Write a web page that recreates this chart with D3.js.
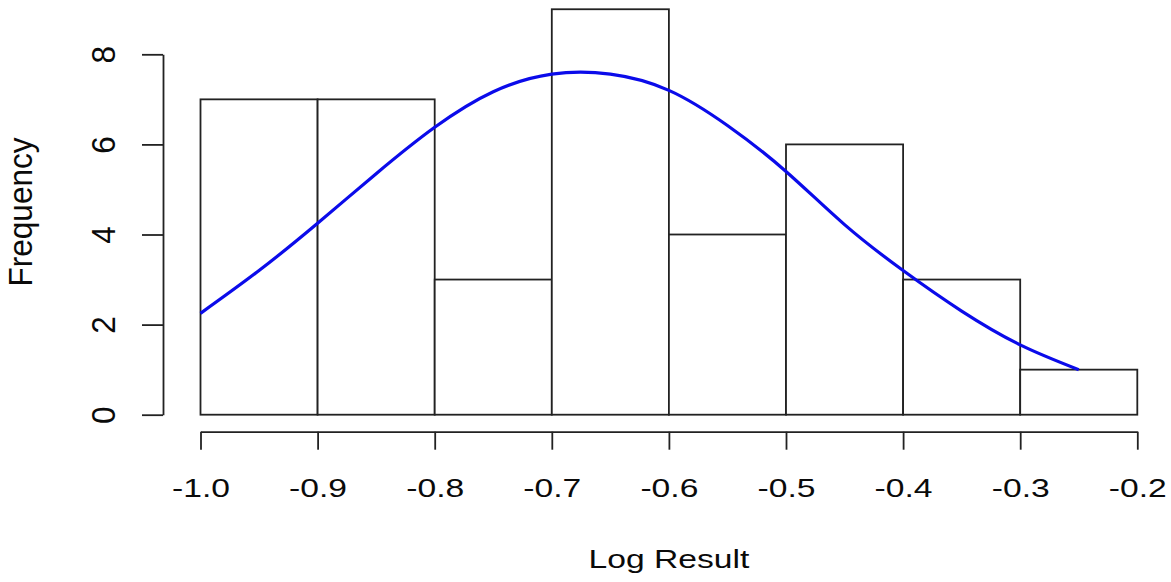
<!DOCTYPE html>
<html>
<head>
<meta charset="utf-8">
<script src="https://cdn.jsdelivr.net/npm/d3@7"></script>
<style>
  html, body { margin: 0; padding: 0; background: #fff; }
  svg { display: block; }
  text { font-family: "Liberation Sans", Arial, sans-serif; fill: #0a0a0a; }
</style>
</head>
<body>
<div id="chart"></div>
<script>
// Histogram of log results with fitted curve (D3 v7)

const width = 1171;
const height = 582;

// histogram bins (lower edges) and counts
const binStarts = [-1.0, -0.9, -0.8, -0.7, -0.6, -0.5, -0.4, -0.3];
const binWidth = 0.1;
const counts = [7, 7, 3, 9, 4, 6, 3, 1];

// blue curve, every 0.05
const curveX = [-1.00, -0.95, -0.90, -0.85, -0.80, -0.75, -0.70, -0.65, -0.60, -0.55, -0.50, -0.45, -0.40, -0.35, -0.30, -0.25];
const curveY = [2.25, 3.2, 4.25, 5.35, 6.38, 7.17, 7.56, 7.56, 7.2, 6.42, 5.4, 4.22, 3.2, 2.3, 1.55, 1.0];

// tick labels
const xTicks = [-1.0, -0.9, -0.8, -0.7, -0.6, -0.5, -0.4, -0.3, -0.2];
const yTicks = [0, 2, 4, 6, 8];

// text in the picture is drawn wider than normal
const flat = 'scale(1.27,1)';
const upright = 'scale(1.27,1.19) rotate(-90)';

const svg = d3.select('#chart')
  .append('svg')
  .attr('width', width)
  .attr('height', height);

const x = d3.scaleLinear().domain([-1.0, -0.2]).range([200.5, 1137.3]);
const y = d3.scaleLinear().domain([0, 8]).range([414.7, 54.3]);

// bars
svg.append('g')
  .selectAll('rect')
  .data(binStarts)
  .enter()
  .append('rect')
  .attr('x', d => x(d))
  .attr('width', d => x(d + binWidth) - x(d))
  .attr('y', (d, i) => y(counts[i]))
  .attr('height', (d, i) => y(0) - y(counts[i]))
  .attr('fill', '#fff')
  .attr('stroke', '#222')
  .attr('stroke-width', 1.8);

// curve
const line = d3.line()
  .x(d => x(d[0]))
  .y(d => y(d[1]))
  .curve(d3.curveNatural);

svg.append('path')
  .datum(curveX.map((v, i) => [v, curveY[i]]))
  .attr('d', line)
  .attr('fill', 'none')
  .attr('stroke', '#0b0bea')
  .attr('stroke-width', 3.2);

// x axis
const xAxis = svg.append('g')
  .attr('transform', 'translate(0,431.7)')
  .call(d3.axisBottom(x).tickValues(xTicks).tickSize(18).tickSizeOuter(0));

xAxis.selectAll('text')
  .attr('y', 65.5)
  .attr('dy', 0)
  .attr('transform', flat)
  .style('font-size', '26.5px')
  .text(d => d3.format('.1f')(d).replace('−', '-'));

// y axis
const yAxis = svg.append('g')
  .attr('transform', 'translate(163,0)')
  .call(d3.axisLeft(y).tickValues(yTicks).tickSize(21).tickSizeOuter(0));

yAxis.selectAll('text')
  .attr('x', 0)
  .attr('y', 0)
  .attr('dy', 0)
  .attr('text-anchor', 'middle')
  .attr('transform', `translate(-48,0) ${upright}`)
  .style('font-size', '26.5px');

svg.selectAll('.domain, .tick line')
  .attr('stroke', '#222')
  .attr('stroke-width', 1.8);

// axis titles
svg.append('text')
  .attr('transform', `translate(668.9,568) ${flat}`)
  .attr('text-anchor', 'middle')
  .style('font-size', '26.5px')
  .text('Log Result');

svg.append('text')
  .attr('transform', `translate(32,212) ${upright}`)
  .attr('text-anchor', 'middle')
  .style('font-size', '26.5px')
  .text('Frequency');
</script>
</body>
</html>
